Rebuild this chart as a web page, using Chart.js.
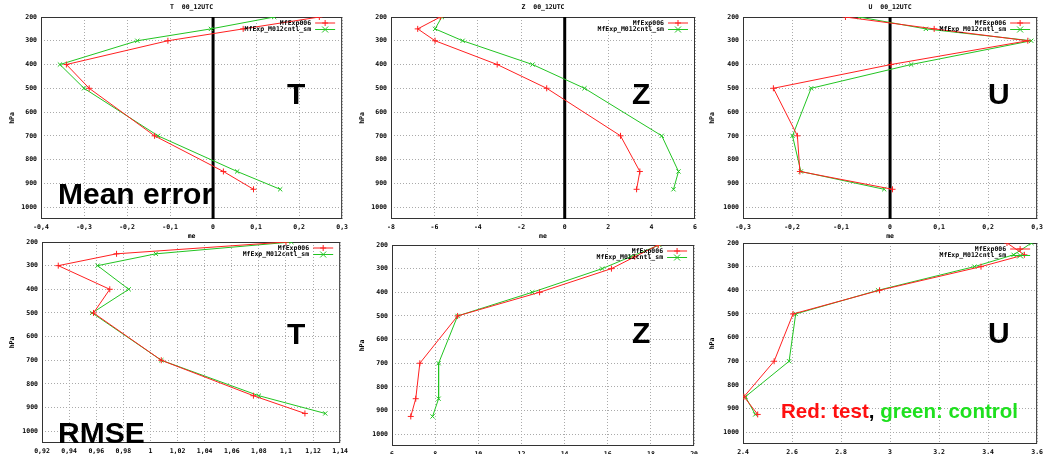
<!DOCTYPE html>
<html>
<head>
<meta charset="utf-8">
<script src="https://cdn.jsdelivr.net/npm/chart.js@4.4.0/dist/chart.umd.min.js"></script>
<style>
    body { margin: 0; background: #fff; width: 1047px; height: 454px; overflow: hidden; position: relative; }
    canvas { position: absolute; }
    .big { position: absolute; font-family: "Liberation Sans", Arial, sans-serif; font-weight: bold; font-size: 30px; line-height: 1; color: #000; white-space: nowrap; }
</style>
</head>
<body>

<canvas id="me_t" width="352" height="242" style="left:0px;top:0px"></canvas>
<canvas id="me_z" width="352" height="242" style="left:350px;top:0px"></canvas>
<canvas id="me_u" width="347" height="242" style="left:700px;top:0px"></canvas>
<canvas id="rmse_t" width="352" height="240" style="left:0px;top:226px"></canvas>
<canvas id="rmse_z" width="352" height="240" style="left:350px;top:226px"></canvas>
<canvas id="rmse_u" width="347" height="240" style="left:700px;top:226px"></canvas>

<div class="big" style="left:287px;top:79px">T</div>
<div class="big" style="left:632px;top:79px">Z</div>
<div class="big" style="left:988px;top:79px">U</div>
<div class="big" style="left:58px;top:179px">Mean error</div>
<div class="big" style="left:287px;top:319px">T</div>
<div class="big" style="left:632px;top:318px">Z</div>
<div class="big" style="left:988px;top:318px">U</div>
<div class="big" style="left:58px;top:418px">RMSE</div>
<div class="big" style="left:781px;top:401px;font-size:20.5px"><span style="color:#ff1010">Red: test</span>, <span style="color:#1ee01e">green: control</span></div>

<script>
    // pressure levels (hPa) of the verification
    var levels = [200, 250, 300, 400, 500, 700, 850, 925];
    var level_ticks = [200, 300, 400, 500, 600, 700, 800, 900, 1000];

    // mean error, MfExp006 (test) and MfExp_M012cntl_sm (control)
    var me_t_test = [0.247, 0.07, -0.105, -0.341, -0.288, -0.136, 0.024, 0.094];
    var me_t_control = [0.142, -0.005, -0.176, -0.356, -0.300, -0.128, 0.056, 0.156];
    var me_z_test = [-5.73, -6.77, -5.97, -3.11, -0.83, 2.57, 3.46, 3.31];
    var me_z_control = [-5.66, -5.97, -4.70, -1.48, 0.91, 4.47, 5.24, 5.01];
    var me_u_test = [-0.091, 0.09, 0.281, 0.002, -0.238, -0.189, -0.184, 0.005];
    var me_u_control = [-0.063, 0.073, 0.288, 0.043, -0.161, -0.199, -0.182, -0.012];

    // rmse
    var rmse_t_test = [1.100, 0.975, 0.932, 0.970, 0.958, 1.008, 1.076, 1.114];
    var rmse_t_control = [1.104, 1.004, 0.961, 0.984, 0.957, 1.008, 1.080, 1.129];
    var rmse_z_test = [18.34, 17.25, 16.17, 12.84, 9.04, 7.29, 7.10, 6.87];
    var rmse_z_control = [18.39, 17.05, 15.74, 12.50, 9.04, 8.16, 8.16, 7.88];
    var rmse_u_test = [3.477, 3.548, 3.371, 2.957, 2.604, 2.527, 2.404, 2.46];
    var rmse_u_control = [3.577, 3.504, 3.344, 2.951, 2.615, 2.588, 2.41, 2.45];

    // x axis ticks of each panel
    var me_t_ticks = [-0.4, -0.3, -0.2, -0.1, 0, 0.1, 0.2, 0.3];
    var me_z_ticks = [-8, -6, -4, -2, 0, 2, 4, 6];
    var me_u_ticks = [-0.3, -0.2, -0.1, 0, 0.1, 0.2, 0.3];
    var rmse_t_ticks = [0.92, 0.94, 0.96, 0.98, 1, 1.02, 1.04, 1.06, 1.08, 1.1, 1.12, 1.14];
    var rmse_z_ticks = [6, 8, 10, 12, 14, 16, 18, 20];
    var rmse_u_ticks = [2.4, 2.6, 2.8, 3, 3.2, 3.4, 3.6];

    var RED = '#ff2020';
    var GREEN = '#22c422';
    var SMALL_FONT = { family: 'DejaVu Sans Mono', size: 6.5, weight: 'bold' };

    function pts(values) {
        var out = [];
        for (var i = 0; i < levels.length; i++) {
            out.push({ x: values[i], y: levels[i] });
        }
        return out;
    }

    // gnuplot prints numbers with a decimal comma here
    function tick_label(v) {
        return String(parseFloat(Number(v).toFixed(3))).replace('.', ',');
    }

    function draw_marker(ctx, style, x, y, r) {
        ctx.beginPath();
        if (style == 'cross') {
            ctx.moveTo(x - r, y); ctx.lineTo(x + r, y);
            ctx.moveTo(x, y - r); ctx.lineTo(x, y + r);
        } else {
            ctx.moveTo(x - r, y - r); ctx.lineTo(x + r, y + r);
            ctx.moveTo(x - r, y + r); ctx.lineTo(x + r, y - r);
        }
        ctx.stroke();
    }

    // frame, zero line, title and the key inside the plot
    var gnuPlugin = {
        id: 'gnu',
        beforeDatasetsDraw: function(chart, args, opts) {
            var ctx = chart.ctx;
            var a = chart.chartArea;
            ctx.save();
            ctx.strokeStyle = '#333';
            ctx.lineWidth = 1;
            ctx.strokeRect(a.left + 0.5, a.top + 0.5, a.right - a.left - 1, a.bottom - a.top - 1);
            if (opts.zero) {
                var x0 = chart.scales.x.getPixelForValue(0);
                ctx.strokeStyle = '#000';
                ctx.lineWidth = 3;
                ctx.beginPath();
                ctx.moveTo(x0, a.top);
                ctx.lineTo(x0, a.bottom);
                ctx.stroke();
            }
            ctx.restore();
        },
        afterDatasetsDraw: function(chart, args, opts) {
            var ctx = chart.ctx;
            var a = chart.chartArea;
            ctx.save();
            ctx.font = 'bold 6.5px "DejaVu Sans Mono"';
            ctx.fillStyle = '#000';
            ctx.textBaseline = 'middle';
            if (opts.title) {
                ctx.textAlign = 'center';
                ctx.fillText(opts.title, (a.left + a.right) / 2, a.top - 10);
            }
            ctx.textAlign = 'right';
            chart.data.datasets.forEach(function(ds, i) {
                var y = a.top + 6 + i * 6.5;
                ctx.fillStyle = '#000';
                ctx.fillText(ds.label, a.right - 31, y);
                ctx.strokeStyle = ds.borderColor;
                ctx.lineWidth = 1;
                ctx.beginPath();
                ctx.moveTo(a.right - 27, y);
                ctx.lineTo(a.right - 7, y);
                ctx.stroke();
                draw_marker(ctx, ds.pointStyle, a.right - 17, y, 3);
            });
            ctx.restore();
        }
    };

    function make_panel(id, test, control, xticks, lay) {
        var ctx = document.getElementById(id).getContext('2d');

        var data = {
            datasets: [{
                label: 'MfExp006',
                data: pts(test),
                showLine: true,
                borderColor: RED,
                backgroundColor: RED,
                borderWidth: 1,
                pointStyle: 'cross',
                pointRadius: 3,
                pointBorderWidth: 1
            }, {
                label: 'MfExp_M012cntl_sm',
                data: pts(control),
                showLine: true,
                borderColor: GREEN,
                backgroundColor: GREEN,
                borderWidth: 1,
                pointStyle: 'crossRot',
                pointRadius: 3,
                pointBorderWidth: 1
            }]
        };

        var grid = { color: '#aaa', lineWidth: 1, drawTicks: false };
        var border = { display: false, dash: [1, 2] };

        return new Chart(ctx, {
            type: 'scatter',
            data: data,
            options: {
                responsive: false,
                animation: false,
                events: [],
                layout: { padding: { left: 0, top: lay.top, right: lay.right, bottom: 0 } },
                plugins: {
                    legend: { display: false },
                    tooltip: { enabled: false },
                    gnu: { title: lay.title, zero: lay.zero }
                },
                scales: {
                    x: {
                        type: 'linear',
                        min: xticks[0],
                        max: xticks[xticks.length - 1],
                        afterBuildTicks: function(scale) {
                            scale.ticks = xticks.map(function(v) { return { value: v }; });
                        },
                        afterFit: function(scale) { scale.height = lay.xh; },
                        ticks: { font: SMALL_FONT, color: '#000', padding: 4, maxRotation: 0, autoSkip: false, callback: tick_label },
                        grid: grid,
                        border: border,
                        title: { display: true, text: 'me', font: SMALL_FONT, color: '#000', padding: { top: 0, bottom: 2 } }
                    },
                    y: {
                        type: 'linear',
                        reverse: true,
                        min: 200,
                        max: 1050,
                        afterBuildTicks: function(scale) {
                            scale.ticks = level_ticks.map(function(v) { return { value: v }; });
                        },
                        afterFit: function(scale) { scale.width = lay.yw; },
                        ticks: { font: SMALL_FONT, color: '#000', padding: 4, autoSkip: false, callback: function(v) { return String(v); } },
                        grid: grid,
                        border: border,
                        title: { display: true, text: 'hPa', font: SMALL_FONT, color: '#000', padding: { top: 8, bottom: 0 } }
                    }
                }
            },
            plugins: [gnuPlugin]
        });
    }

    // top row: mean error
    make_panel('me_t', me_t_test, me_t_control, me_t_ticks, { title: 'T  00_12UTC', zero: true, top: 17, right: 7, yw: 41, xh: 23 });
    make_panel('me_z', me_z_test, me_z_control, me_z_ticks, { title: 'Z  00_12UTC', zero: true, top: 17, right: 7, yw: 41, xh: 23 });
    make_panel('me_u', me_u_test, me_u_control, me_u_ticks, { title: 'U  00_12UTC', zero: true, top: 17, right: 4, yw: 43, xh: 23 });

    // bottom row: rmse
    make_panel('rmse_t', rmse_t_test, rmse_t_control, rmse_t_ticks, { zero: false, top: 16, right: 7, yw: 42, xh: 23 });
    make_panel('rmse_z', rmse_z_test, rmse_z_control, rmse_z_ticks, { zero: false, top: 19, right: 7, yw: 42, xh: 20 });
    make_panel('rmse_u', rmse_u_test, rmse_u_control, rmse_u_ticks, { zero: false, top: 17, right: 4, yw: 43, xh: 22 });
</script>
</body>
</html>
